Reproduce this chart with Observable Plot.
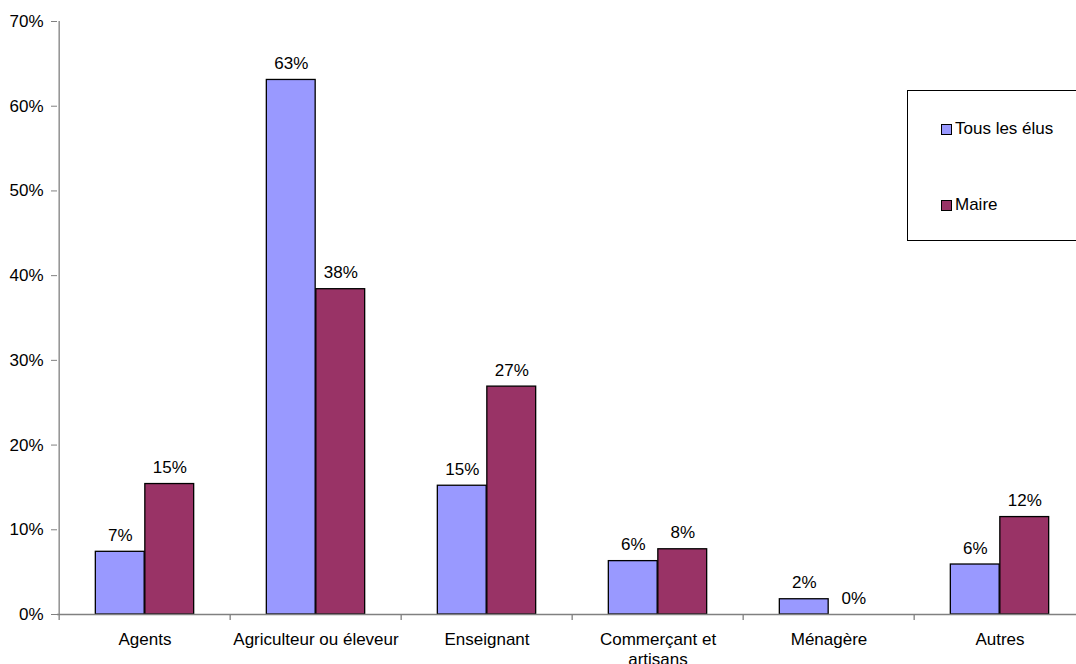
<!DOCTYPE html>
<html>
<head>
<meta charset="utf-8">
<script src="https://cdn.jsdelivr.net/npm/d3@7"></script>
<script src="https://cdn.jsdelivr.net/npm/@observablehq/plot@0.6"></script>
<style>
html, body { margin: 0; padding: 0; overflow: hidden; background: #fff; }
#wrap { position: relative; width: 1076px; height: 664px; overflow: hidden; }
#legend { position: absolute; left: 907px; top: 90px; width: 220px; height: 151px; border: 1px solid #000; box-sizing: border-box; background: #fff; font-family: "Liberation Sans", Arial, sans-serif; font-size: 17px; color: #000; }
.item { position: absolute; left: 33px; height: 20px; display: flex; align-items: center; white-space: nowrap; }
.sw { width: 11px; height: 11px; border: 1.3px solid #000; box-sizing: border-box; margin-right: 3px; }
</style>
</head>
<body>
<div id="wrap"></div>
<script>
// ---- data ----
const categories = ["Agents", "Agriculteur ou éleveur", "Enseignant", "Commerçant et artisans", "Ménagère", "Autres"];
const tickLabels = ["Agents", "Agriculteur ou éleveur", "Enseignant", "Commerçant et\nartisans", "Ménagère", "Autres"];
const seriesNames = ["Tous les élus", "Maire"];
const tousLesElus = [0.074, 0.631, 0.152, 0.063, 0.018, 0.059];
const maire = [0.154, 0.384, 0.269, 0.077, 0.0, 0.115];
const yTicks = [0, 0.1, 0.2, 0.3, 0.4, 0.5, 0.6, 0.7];
const seriesColors = ["#9999FF", "#993366"];

// ---- table ----
const rows = [];
categories.forEach((c, i) => {
  rows.push({category: c, series: seriesNames[0], value: tousLesElus[i]});
  rows.push({category: c, series: seriesNames[1], value: maire[i]});
});
const rowsA = rows.filter(d => d.series === seriesNames[0]);
const rowsB = rows.filter(d => d.series === seriesNames[1]);

// ---- layout ----
const W = 1090, ML = 57, plotRight = 1087;
const MR = W - plotRight;
const step = (plotRight - ML) / categories.length;
const barW = 49.5;
const side = (step - 2 * barW) / 2;
const fmt = d3.format(".0%");
const font = "'Liberation Sans', Arial, sans-serif";

const chart = Plot.plot({
  width: W,
  height: 664,
  marginTop: 21,
  marginBottom: 50,
  marginLeft: ML,
  marginRight: MR,
  style: {fontFamily: font, fontSize: "17px", color: "#000", background: "#fff", maxWidth: "none", overflow: "hidden"},
  x: {domain: categories, padding: 0},
  y: {domain: [0, 0.7]},
  marks: [
    Plot.barY(rowsA, {x: "category", y: "value", fill: seriesColors[0], stroke: "#000", strokeWidth: 1.3, insetLeft: side, insetRight: side + barW}),
    Plot.barY(rowsB, {x: "category", y: "value", fill: seriesColors[1], stroke: "#000", strokeWidth: 1.3, insetLeft: side + barW, insetRight: side}),
    Plot.ruleY([0], {stroke: "#808080", strokeWidth: 1.3}),
    Plot.ruleX([categories[0]], {x: d => d, dx: -step / 2, y1: 0, y2: 0.7, stroke: "#808080", strokeWidth: 1.3}),
    Plot.ruleX(categories, {x: d => d, dx: -step / 2, y1: 0, y2: 0, insetTop: 6, insetBottom: 0, stroke: "#808080", strokeWidth: 1.3}),
    Plot.axisY({ticks: yTicks, tickFormat: fmt, tickSize: 6, tickPadding: 8, stroke: "#808080", fill: "#000", label: null}),
    Plot.axisX({tickSize: 0, tickPadding: 17, tickFormat: d => tickLabels[categories.indexOf(d)], fill: "#000", label: null, lineHeight: 1.15}),
    Plot.text(rowsA, {x: "category", y: "value", text: d => fmt(d.value), dx: -barW / 2, dy: -11, lineAnchor: "bottom", fill: "#000"}),
    Plot.text(rowsB, {x: "category", y: "value", text: d => fmt(d.value), dx: barW / 2, dy: -11, lineAnchor: "bottom", fill: "#000"})
  ]
});

const wrap = document.getElementById("wrap");
wrap.appendChild(chart);

// ---- legend (inside the plot area, as in the original) ----
const legend = document.createElement("div");
legend.id = "legend";
const tops = [28, 104];
seriesNames.forEach((name, i) => {
  const item = document.createElement("div");
  item.className = "item";
  item.style.top = tops[i] + "px";
  const sw = document.createElement("span");
  sw.className = "sw";
  sw.style.background = seriesColors[i];
  const t = document.createElement("span");
  t.textContent = name;
  item.appendChild(sw);
  item.appendChild(t);
  legend.appendChild(item);
});
wrap.appendChild(legend);
</script>
</body>
</html>
